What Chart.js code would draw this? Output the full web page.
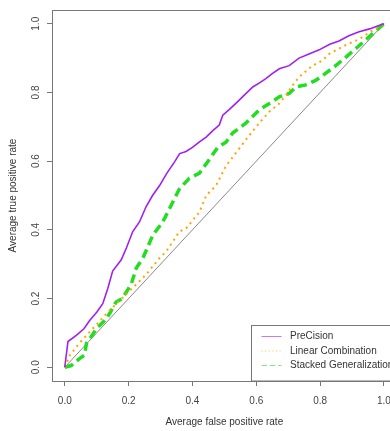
<!DOCTYPE html>
<html lang="en">
<head>
  <meta charset="UTF-8" />
  <title>Average ROC curves</title>
  <script src="https://cdn.jsdelivr.net/npm/chart.js"></script>
  <style>
    html, body {
      margin: 0;
      padding: 0;
      overflow: hidden;
      background: white;
    }
    canvas {
      display: block;
    }
  </style>
</head>
<body>

<canvas id="rocChart" width="400" height="431"></canvas>

<script>
  // averaged ROC points, false positive rate / true positive rate
  const precisionFpr = [0, 0.01, 0.036, 0.06, 0.078, 0.1, 0.119, 0.135, 0.15, 0.177, 0.193, 0.213, 0.234, 0.255, 0.275, 0.297, 0.32, 0.344, 0.36, 0.38, 0.4, 0.422, 0.443, 0.463, 0.484, 0.495, 0.515, 0.536, 0.56, 0.589, 0.61, 0.63, 0.65, 0.672, 0.703, 0.734, 0.765, 0.797, 0.83, 0.859, 0.89, 0.922, 0.955, 0.984, 1];
  const precisionTpr = [0, 0.075, 0.093, 0.112, 0.136, 0.16, 0.185, 0.23, 0.28, 0.313, 0.347, 0.395, 0.423, 0.468, 0.5, 0.529, 0.565, 0.598, 0.622, 0.628, 0.64, 0.656, 0.67, 0.688, 0.705, 0.734, 0.75, 0.768, 0.79, 0.816, 0.828, 0.84, 0.855, 0.869, 0.878, 0.9, 0.912, 0.924, 0.94, 0.95, 0.965, 0.977, 0.985, 0.995, 1];

  const linearFpr = [0, 0.016, 0.042, 0.068, 0.1, 0.14, 0.193, 0.255, 0.297, 0.318, 0.359, 0.38, 0.422, 0.443, 0.474, 0.505, 0.568, 0.609, 0.641, 0.672, 0.693, 0.713, 0.734, 0.776, 0.807, 0.828, 0.88, 0.922, 0.953, 1];
  const linearTpr = [0, 0.035, 0.066, 0.093, 0.125, 0.165, 0.213, 0.27, 0.318, 0.337, 0.395, 0.404, 0.452, 0.5, 0.529, 0.586, 0.663, 0.711, 0.744, 0.768, 0.792, 0.82, 0.845, 0.878, 0.893, 0.912, 0.938, 0.955, 0.974, 1];

  const stackedFpr = [0, 0.02, 0.047, 0.062, 0.068, 0.08, 0.099, 0.13, 0.161, 0.18, 0.208, 0.224, 0.245, 0.276, 0.307, 0.333, 0.359, 0.39, 0.422, 0.453, 0.479, 0.505, 0.526, 0.568, 0.609, 0.641, 0.672, 0.703, 0.724, 0.755, 0.786, 0.807, 0.845, 0.88, 0.922, 0.974, 1];
  const stackedTpr = [0, 0.005, 0.026, 0.035, 0.07, 0.085, 0.112, 0.14, 0.19, 0.2, 0.241, 0.289, 0.318, 0.385, 0.423, 0.471, 0.519, 0.55, 0.565, 0.605, 0.64, 0.655, 0.682, 0.711, 0.749, 0.768, 0.787, 0.797, 0.816, 0.822, 0.835, 0.849, 0.875, 0.902, 0.936, 0.979, 1];

  const chanceFpr = [0, 1];
  const chanceTpr = [0, 1];

  const axisTicks = [0, 0.2, 0.4, 0.6, 0.8, 1.0];

  const toPoints = (xs, ys) => xs.map((x, i) => ({ x: x, y: ys[i] }));

  const FONT = "'Liberation Sans', Arial, sans-serif";

  // plot frame (R style box around the plotting region)
  const frameBox = {
    id: 'frameBox',
    beforeDatasetsDraw(chart) {
      const { ctx, chartArea: a } = chart;
      ctx.save();
      ctx.strokeStyle = '#777';
      ctx.lineWidth = 1;
      ctx.strokeRect(Math.round(a.left) + 0.5, Math.round(a.top) + 0.5,
                     Math.round(a.right - a.left), Math.round(a.bottom - a.top));
      ctx.restore();
    }
  };

  // legend box in the bottom right corner of the plot
  const cornerLegend = {
    id: 'cornerLegend',
    afterDraw(chart) {
      const { ctx, chartArea: a } = chart;
      const sets = chart.data.datasets.filter(d => d.label);
      const left = Math.round(a.right - 146) + 0.5;
      const top = Math.round(a.bottom - 56) + 0.5;
      ctx.save();
      ctx.fillStyle = 'white';
      ctx.fillRect(left, top, a.right - left, a.bottom - top);
      ctx.strokeStyle = '#777';
      ctx.lineWidth = 1;
      ctx.strokeRect(left, top, a.right - left, a.bottom - top);
      ctx.font = '10px ' + FONT;
      ctx.textBaseline = 'middle';
      sets.forEach((d, i) => {
        const y = top + 11 + i * 14.5;
        ctx.beginPath();
        ctx.strokeStyle = d.borderColor;
        ctx.globalAlpha = 0.6;
        ctx.lineWidth = 1;
        ctx.setLineDash(d.borderDash ? d.borderDash.map(v => v * 0.6) : []);
        ctx.moveTo(left + 10, y);
        ctx.lineTo(left + 30, y);
        ctx.stroke();
        ctx.globalAlpha = 1;
        ctx.setLineDash([]);
        ctx.fillStyle = '#333';
        ctx.fillText(d.label, left + 38.5, y);
      });
      ctx.restore();
    }
  };

  const textFont = { family: FONT, size: 10 };

  new Chart(document.getElementById('rocChart'), {
    type: 'scatter',
    data: {
      datasets: [
        {
          label: 'PreCision',
          data: toPoints(precisionFpr, precisionTpr),
          borderColor: '#a020f0',
          borderWidth: 1.6,
          showLine: true,
          pointRadius: 0
        },
        {
          label: 'Linear Combination',
          data: toPoints(linearFpr, linearTpr),
          borderColor: '#ffa500',
          borderWidth: 2,
          borderDash: [2, 4],
          showLine: true,
          pointRadius: 0
        },
        {
          label: 'Stacked Generalization',
          data: toPoints(stackedFpr, stackedTpr),
          borderColor: '#22dd22',
          borderWidth: 3.5,
          borderDash: [9, 5],
          showLine: true,
          pointRadius: 0
        },
        {
          label: '',
          data: toPoints(chanceFpr, chanceTpr),
          borderColor: '#888',
          borderWidth: 1,
          showLine: true,
          pointRadius: 0
        }
      ]
    },
    options: {
      responsive: false,
      animation: false,
      layout: { padding: { top: 5, right: 2, left: 0, bottom: 0 } },
      plugins: {
        legend: { display: false },
        tooltip: { enabled: false }
      },
      scales: {
        x: {
          type: 'linear',
          min: -0.04,
          max: 1.04,
          afterFit: s => { s.height = 50; },
          afterBuildTicks: s => { s.ticks = axisTicks.map(v => ({ value: v })); },
          ticks: {
            includeBounds: false,
            font: textFont,
            color: '#444',
            padding: 9,
            maxRotation: 0,
            callback: v => Number(v).toFixed(1)
          },
          grid: { drawOnChartArea: false, drawTicks: true, tickLength: 5, color: '#777' },
          border: { display: false },
          title: {
            display: true,
            text: 'Average false positive rate',
            font: textFont,
            color: '#333',
            padding: { top: 0, bottom: 3 }
          }
        },
        y: {
          type: 'linear',
          min: -0.04,
          max: 1.04,
          afterFit: s => { s.width = 52; },
          afterBuildTicks: s => { s.ticks = axisTicks.map(v => ({ value: v })); },
          ticks: {
            includeBounds: false,
            font: textFont,
            color: '#444',
            padding: 4,
            minRotation: 90,
            maxRotation: 90,
            crossAlign: 'center',
            callback: v => Number(v).toFixed(1)
          },
          grid: { drawOnChartArea: false, drawTicks: true, tickLength: 5, color: '#777' },
          border: { display: false },
          title: {
            display: true,
            text: 'Average true positive rate',
            font: textFont,
            color: '#333',
            padding: { top: 7, bottom: 0 }
          }
        }
      }
    },
    plugins: [frameBox, cornerLegend]
  });
</script>

</body>
</html>
